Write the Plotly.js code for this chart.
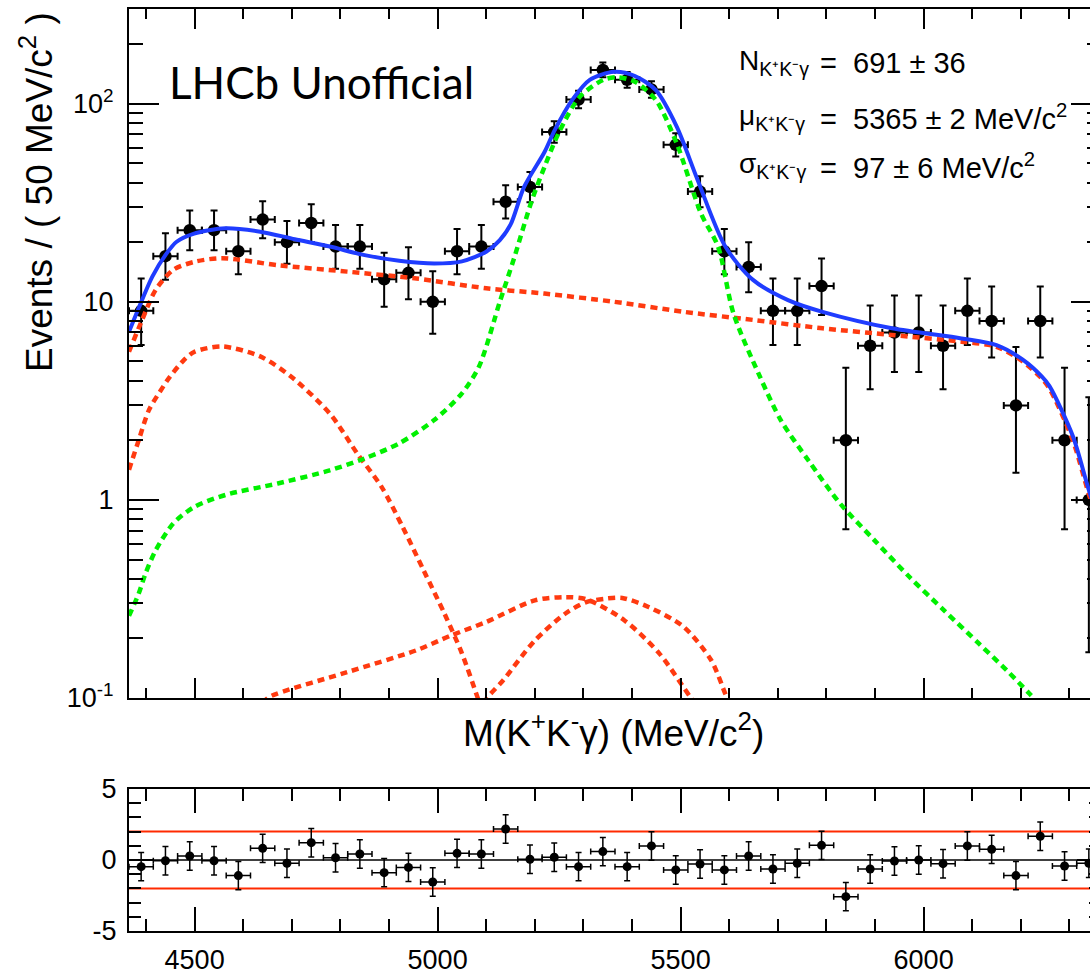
<!DOCTYPE html>
<html><head><meta charset="utf-8">
<script src="https://cdn.plot.ly/plotly-3.0.1.min.js"></script>
<style>html,body{margin:0;padding:0;overflow:hidden;background:#fff}#chart{width:1120px;height:975px}</style>
</head><body><div id="chart"></div>
<script>
// ---- data ----
const binCenters = [4390,4440,4490,4540,4590,4640,4690,4740,4790,4840,4890,4940,4990,5040,5090,5140,5190,5240,5290,5340,5390,5440,5490,5540,5590,5640,5690,5740,5790,5840,5890,5940,5990,6040,6090,6140,6190,6240,6290,6340];
const counts = [9,17,23,23,18,26,20,25,19,19,13,14,10,18,19,32,38,72,105,148,132,118,62,36,18,15,9,9,12,2,6,7,7,6,9,8,3,8,2,1];
const errLow = [2.94,4.09,4.78,4.78,4.21,5.09,4.44,4.99,4.33,4.33,3.56,3.70,3.11,4.21,4.33,5.66,6.19,8.47,10.25,12.17,11.49,10.86,7.85,6.02,4.21,3.83,2.94,2.94,3.42,1.29,2.38,2.58,2.58,2.38,2.94,2.77,1.63,2.77,1.29,0.83];
const errHigh = [4.11,5.20,5.87,5.87,5.32,6.17,5.55,6.07,5.44,5.44,4.70,4.83,4.27,5.32,5.44,6.72,7.23,9.49,11.27,13.19,12.51,11.88,8.88,7.06,5.32,4.96,4.11,4.11,4.56,2.64,3.58,3.77,3.77,3.58,4.11,3.94,2.92,3.94,2.64,2.30];
const binHalfWidth = 25;
const pulls = [-0.47,-0.05,0.28,-0.05,-1.1,0.82,-0.23,1.22,0.16,0.42,-0.89,-0.52,-1.55,0.47,0.42,2.18,0.05,0.19,-0.47,0.59,-0.47,0.99,-0.70,-0.28,-0.70,0.28,-0.63,-0.23,1.03,-2.58,-0.63,-0.07,0.0,-0.26,0.99,0.75,-1.10,1.67,-0.42,-0.23];
const pullErr = 1;

// fit curves
const totalX = [4365,4385,4413,4442,4463,4499,4563,4635,4706,4778,4850,4921,4993,5050,5100,5128,5150,5178,5220,5241,5277,5313,5363,5406,5449,5492,5535,5592,5649,5721,5792,5935,6078,6150,6204,6243,6259,6307,6341,6365];
const totalY = [7.05,9.3,13.4,17.5,20.1,22.1,23.5,22.6,20.7,19.0,17.2,16.1,15.6,16.0,17.9,20.5,24.5,38,57,73.6,104.5,132,145,138,117,76.6,41.2,19.0,12.9,10.2,8.9,7.35,6.53,6.04,5.1,4.2,3.75,2.1,1.1,0.75];
const signalX = [4365,4385,4399,4420,4456,4499,4564,4671,4778,4850,4921,4993,5050,5085,5128,5157,5193,5220,5249,5292,5341,5370,5406,5449,5492,5542,5577,5609,5663,5706,5763,5828,5899,5971,6042,6114,6171,6218,6240];
const signalY = [0.26,0.337,0.425,0.557,0.76,0.92,1.06,1.21,1.41,1.62,1.93,2.53,3.45,4.7,10.0,16.5,32,48,71,108,132,136,129,104.5,63,27.9,19,8.7,4.2,2.53,1.58,0.96,0.625,0.408,0.277,0.188,0.138,0.105,0.092];
const combX = [4365,4392,4420,4456,4499,4556,4671,4814,4957,5100,5220,5363,5506,5649,5792,5935,6078,6150,6204,6243,6259,6307,6341,6365];
const combY = [5.6,8.1,11.5,14.5,15.9,16.6,15.3,14.2,13.1,11.7,11.0,10.0,8.9,8.1,7.35,6.8,6.29,5.93,5.0,4.1,3.65,2.0,1.05,0.72];
const lowBkgX = [4365,4385,4406,4435,4449,4478,4499,4556,4635,4699,4778,4835,4885,4928,4971,5014,5050,5082,5092];
const lowBkgY = [1.42,2.0,2.84,3.72,4.18,5.08,5.58,5.95,5.3,4.18,2.73,1.71,1.16,0.731,0.442,0.267,0.168,0.101,0.085];
const peakBkgAX = [4640,4653,4814,4956,5028,5100,5200,5263,5306,5384,5456,5520,5530];
const peakBkgAY = [0.094,0.101,0.135,0.174,0.207,0.242,0.311,0.323,0.315,0.247,0.168,0.101,0.094];
const peakBkgBX = [5095,5103,5135,5200,5263,5306,5349,5380,5434,5506,5563,5592,5600];
const peakBkgBY = [0.094,0.101,0.123,0.195,0.267,0.305,0.318,0.32,0.288,0.229,0.155,0.105,0.095];

const massRange = [4365, 6365];
const logYRange = [-1, 2.478];
const pullRange = [-5, 5];
const pullLines = [-2, 2];
const pullZero = 0;
const yTickVals = [0.1, 1, 10, 100];
const yTickText = ['10<sup>-1</sup>', '1', '10', '10<sup>2</sup>'];
const yMinorVals = [0.2,0.3,0.4,0.5,0.6,0.7,0.8,0.9,2,3,4,5,6,7,8,9,20,30,40,50,60,70,80,90,200,300];
const pullTickVals = [-5, 0, 5];
const pullTickText = ['-5', '0', '5'];
const fitLabels = ['N<sub>K⁺K⁻γ</sub>', 'μ<sub>K⁺K⁻γ</sub>', 'σ<sub>K⁺K⁻γ</sub>'];
const fitValues = ['=  691 ± 36', '=  5365 ± 2 MeV/c<sup>2</sup>', '=  97 ± 6 MeV/c<sup>2</sup>'];

// ---- styles ----
const FONT = 'Liberation Sans, Arial, sans-serif';
const RED = '#ff3a10', GREEN = '#00f000', BLUE = '#1f3cff';
const dotted = (c) => ({color: c, width: 4.5, dash: '7px,5px', shape: 'spline', smoothing: 0.8});

const traces = [
  {x: binCenters, y: counts, type: 'scatter', mode: 'markers', xaxis: 'x', yaxis: 'y',
   marker: {color: 'black', size: 12.5},
   error_y: {type: 'data', symmetric: false, array: errHigh, arrayminus: errLow, color: 'black', thickness: 2, width: 3.5},
   error_x: {type: 'constant', value: binHalfWidth, color: 'black', thickness: 2, width: 3.5}},
  {x: combX, y: combY, type: 'scatter', mode: 'lines', line: dotted(RED), xaxis: 'x', yaxis: 'y'},
  {x: lowBkgX, y: lowBkgY, type: 'scatter', mode: 'lines', line: dotted(RED), xaxis: 'x', yaxis: 'y'},
  {x: peakBkgAX, y: peakBkgAY, type: 'scatter', mode: 'lines', line: dotted(RED), xaxis: 'x', yaxis: 'y'},
  {x: peakBkgBX, y: peakBkgBY, type: 'scatter', mode: 'lines', line: dotted(RED), xaxis: 'x', yaxis: 'y'},
  {x: signalX, y: signalY, type: 'scatter', mode: 'lines', line: dotted(GREEN), xaxis: 'x', yaxis: 'y'},
  {x: totalX, y: totalY, type: 'scatter', mode: 'lines', line: {color: BLUE, width: 4, shape: 'spline', smoothing: 0.8}, xaxis: 'x', yaxis: 'y'},
  {x: binCenters, y: pulls, type: 'scatter', mode: 'markers', xaxis: 'x2', yaxis: 'y2',
   marker: {color: 'black', size: 9},
   error_y: {type: 'constant', value: pullErr, color: 'black', thickness: 1.5, width: 3},
   error_x: {type: 'constant', value: binHalfWidth, color: 'black', thickness: 1.5, width: 3}}
];

const L = 129, R = 19, T = 9, B = 44, W = 1120, H = 975;
const PW = W - L - R, PH = H - T - B;
const px = (x) => (x - L) / PW;
const py = (y) => (H - B - y) / PH;

const axisBase = {showline: true, linecolor: 'black', linewidth: 2, mirror: 'allticks', ticks: 'inside',
  tickcolor: 'black', tickwidth: 2, showgrid: false, zeroline: false,
  tickfont: {family: FONT, size: 27, color: 'black'}};

const annotations = [
  {text: 'LHCb Unofficial', x: px(167), y: py(82), xanchor: 'left', yanchor: 'middle',
   font: {family: 'Lato, sans-serif', size: 44, color: 'black'}},
  {text: 'Events / ( 50 MeV/c<sup>2</sup> )', x: px(36), y: py(192), textangle: -90,
   xanchor: 'center', yanchor: 'middle', font: {family: FONT, size: 37, color: 'black'}},
  {text: 'M(K<sup>+</sup>K<sup>-</sup>γ) (MeV/c<sup>2</sup>)', x: px(613), y: py(730),
   xanchor: 'center', yanchor: 'middle', font: {family: FONT, size: 37, color: 'black'}}
];
const lineY = [63, 117, 166];
fitLabels.forEach((t, i) => {
  annotations.push({text: t, x: px(737), y: py(lineY[i]), xanchor: 'left', yanchor: 'middle',
    font: {family: FONT, size: 28, color: 'black'}});
  annotations.push({text: fitValues[i], x: px(818), y: py(lineY[i]), xanchor: 'left', yanchor: 'middle',
    font: {family: FONT, size: 29, color: 'black'}});
});
annotations.forEach(a => { a.xref = 'paper'; a.yref = 'paper'; a.showarrow = false; });

const shapes = pullLines.map(v => ({type: 'line', xref: 'x2 domain', x0: 0, x1: 1, yref: 'y2', y0: v, y1: v,
  line: {color: '#ff2a00', width: 2}, layer: 'below'}));
shapes.push({type: 'line', xref: 'x2 domain', x0: 0, x1: 1, yref: 'y2', y0: pullZero, y1: pullZero,
  line: {color: 'black', width: 1.5}, layer: 'below'});

const layout = {
  width: W, height: H, margin: {l: L, r: R, t: T, b: B},
  paper_bgcolor: 'white', plot_bgcolor: 'white', showlegend: false,
  font: {family: FONT, color: 'black'},
  xaxis: Object.assign({}, axisBase, {domain: [0, 1], range: massRange, anchor: 'y',
    tickmode: 'linear', tick0: 4500, dtick: 500, ticklen: 20, showticklabels: false,
    minor: {ticks: 'inside', ticklen: 10, tickwidth: 2, tickcolor: 'black', tickmode: 'linear', tick0: 4400, dtick: 100}}),
  yaxis: Object.assign({}, axisBase, {domain: [py(698), 1], type: 'log', range: logYRange, anchor: 'x',
    tickmode: 'array', tickvals: yTickVals, ticktext: yTickText, ticklen: 30, ticklabelstandoff: 8,
    minor: {ticks: 'inside', ticklen: 14, tickwidth: 2, tickcolor: 'black', tickmode: 'array', tickvals: yMinorVals}}),
  xaxis2: Object.assign({}, axisBase, {domain: [0, 1], range: massRange, anchor: 'y2',
    tickmode: 'linear', tick0: 4500, dtick: 500, ticklen: 24, ticklabelstandoff: 4,
    minor: {ticks: 'inside', ticklen: 12, tickwidth: 2, tickcolor: 'black', tickmode: 'linear', tick0: 4400, dtick: 100}}),
  yaxis2: Object.assign({}, axisBase, {domain: [0, py(789)], range: pullRange, anchor: 'x2',
    tickmode: 'array', tickvals: pullTickVals, ticktext: pullTickText, ticklen: 24, ticklabelstandoff: 5,
    minor: {ticks: 'inside', ticklen: 12, tickwidth: 2, tickcolor: 'black', tickmode: 'linear', tick0: 0, dtick: 1}}),
  annotations: annotations,
  shapes: shapes
};

Plotly.newPlot('chart', traces, layout, {staticPlot: true, displayModeBar: false});
</script></body></html>
